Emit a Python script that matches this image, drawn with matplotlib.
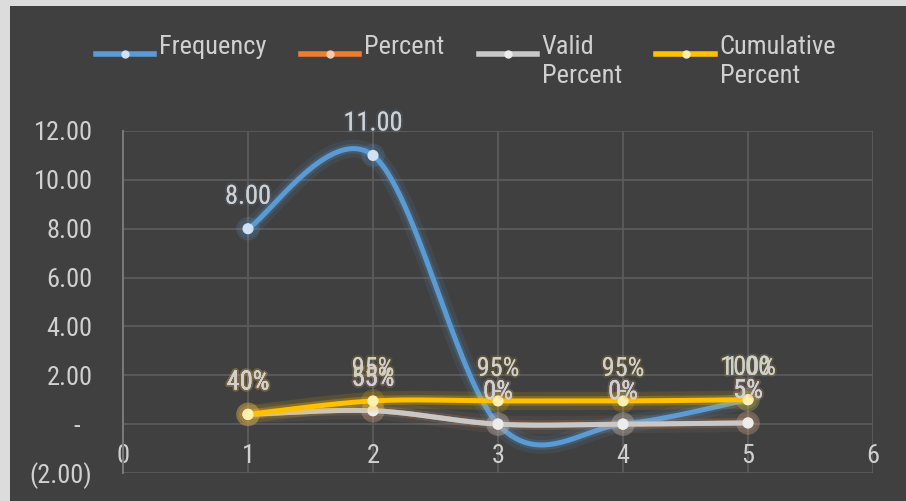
import numpy as np
import matplotlib
matplotlib.use("Agg")
import matplotlib.pyplot as plt
import matplotlib.patheffects as pe
import matplotlib.colors as mcolors
from matplotlib import font_manager
from matplotlib.patches import Rectangle
from matplotlib.lines import Line2D
from matplotlib.legend_handler import HandlerLine2D

# ---------------- data ----------------
x_vals = [1, 2, 3, 4, 5]
frequency = [8, 11, 0, 0, 1]
percent = [0.40, 0.55, 0.00, 0.00, 0.05]
valid_percent = [0.40, 0.55, 0.00, 0.00, 0.05]
cumulative_percent = [0.40, 0.95, 0.95, 0.95, 1.00]
series_names = ["Frequency", "Percent", "Valid\nPercent", "Cumulative\nPercent"]
x_ticks = [0, 1, 2, 3, 4, 5, 6]
y_ticks = [-2, 0, 2, 4, 6, 8, 10, 12]

# ---------------- style ----------------
names = {f.name for f in font_manager.fontManager.ttflist}
FONT = "Liberation Sans"
for cand in ["Liberation Sans Narrow", "Arial Narrow", "Roboto Condensed", "PT Sans Narrow",
             "Archivo Narrow", "Asap Condensed"]:
    if cand in names:
        FONT = cand
        break
FS = 16 if FONT == "Liberation Sans" else 19
plt.rcParams["font.family"] = [FONT, "DejaVu Sans"]
plt.rcParams["font.stretch"] = "condensed"

BG = "#404040"
TXT = "#d0d0d0"
GRID = "#5e5e5e"
colors = ["#5B9BD5", "#ED7D31", "#C8C8C8", "#FFC000"]
mfaces = ["#cfe2f5", "#f7c9a8", "#ececec", "#fff0b0"]
glows = [0.20, 0.05, 0.10, 0.25]
LINESP = 1.3


def excel_smooth(xs, ys, n=60):
    P = np.column_stack([xs, ys]).astype(float)
    out = []
    for i in range(len(P) - 1):
        p0 = P[i - 1] if i > 0 else P[i]
        p1, p2 = P[i], P[i + 1]
        p3 = P[i + 2] if i + 2 < len(P) else P[i + 1]
        c1 = p1 + (p2 - p0) / 6.0
        c2 = p2 - (p3 - p1) / 6.0
        t = np.linspace(0, 1, n)[:, None]
        seg = (1 - t) ** 3 * p1 + 3 * (1 - t) ** 2 * t * c1 + 3 * (1 - t) * t ** 2 * c2 + t ** 3 * p2
        out.append(seg if i == 0 else seg[1:])
    return np.vstack(out)


def num_fmt(v):
    if v > 0:
        return f"{v:,.2f}"
    if v < 0:
        return f"({-v:,.2f})"
    return "-"


def pct_fmt(v):
    return f"{v * 100:.0f}%"


class TopAlignedLine(HandlerLine2D):
    def __init__(self, shift, **kw):
        super().__init__(**kw)
        self.shift = shift

    def create_artists(self, legend, orig_handle, xdescent, ydescent, width, height, fontsize, trans):
        return super().create_artists(legend, orig_handle, xdescent, ydescent - self.shift,
                                      width, height, fontsize, trans)


fig = plt.figure(figsize=(9.06, 5.01), dpi=100)
fig.patch.set_facecolor("#dcdcdc")
fig.add_artist(Rectangle((10 / 906, 0), 1, 1 - 6 / 501, transform=fig.transFigure,
                         facecolor=BG, edgecolor="none", zorder=0))

ax = fig.add_axes([123 / 906, 28 / 501, 750 / 906, 342 / 501])
ax.set_facecolor(BG)
ax.set_xlim(0, 6)
ax.set_ylim(-2, 12)
ax.set_xticks(x_ticks)
ax.set_yticks(y_ticks)
ax.set_yticklabels([num_fmt(v) + ("  " if v == 0 else "") for v in y_ticks])
ax.grid(True, color=GRID, linewidth=1.2, zorder=0)
ax.set_axisbelow(True)
for s in ["top", "right"]:
    ax.spines[s].set_visible(False)
ax.spines["bottom"].set_position(("data", 0))
ax.spines["bottom"].set_visible(False)
ax.spines["left"].set_color("#7a7a7a")
ax.spines["left"].set_linewidth(1.4)
ax.tick_params(axis="x", length=0, pad=14, labelsize=FS, labelcolor=TXT)
ax.tick_params(axis="y", length=0, pad=22, labelsize=FS, labelcolor=TXT)

all_series = [frequency, percent, valid_percent, cumulative_percent]
formats = [num_fmt, pct_fmt, pct_fmt, pct_fmt]

for k, (ys, col, mf, g) in enumerate(zip(all_series, colors, mfaces, glows)):
    curve = excel_smooth(x_vals, ys)
    z = 3 + k
    ax.plot(curve[:, 0], curve[:, 1], color=col, linewidth=3.6, solid_capstyle="round", zorder=z,
            path_effects=[pe.Stroke(linewidth=13, foreground=col, alpha=g * 0.5),
                          pe.Stroke(linewidth=7, foreground=col, alpha=g),
                          pe.Normal()])
    ax.plot(x_vals, ys, linestyle="none", marker="o", markersize=7, markerfacecolor=mf,
            markeredgecolor=mf, zorder=z + 0.5,
            path_effects=[pe.Stroke(linewidth=10, foreground=col, alpha=0.18), pe.Normal()])

for k, (ys, fmt, col) in enumerate(zip(all_series, formats, colors)):
    for xv, yv in zip(x_vals, ys):
        ax.annotate(fmt(yv), (xv, yv), xytext=(0, 18), textcoords="offset points",
                    ha="center", va="baseline", fontsize=FS, color=TXT, zorder=20,
                    path_effects=[pe.withStroke(linewidth=3, foreground=(*mcolors.to_rgb(col), 0.12))])

handles = [Line2D([], [], color=c, linewidth=4, marker="o", markersize=5,
                  markerfacecolor=m, markeredgecolor=m) for c, m in zip(colors, mfaces)]
legend_labels = [lab if "\n" in lab else lab + "\n " for lab in series_names]
shift = 0.5 * LINESP * 0.87 * FS
hmap = {h: TopAlignedLine(shift) for h in handles}
leg = fig.legend(handles, legend_labels, loc="upper center", ncol=4, handler_map=hmap,
                 bbox_to_anchor=(466 / 906, 1 - 11 / 501), frameon=False,
                 fontsize=FS, labelcolor=TXT, handlelength=2.2, handletextpad=0.2,
                 columnspacing=1.3)
for t in leg.get_texts():
    t.set_linespacing(LINESP)

fig.savefig("out.png", dpi=100, facecolor=fig.get_facecolor())
